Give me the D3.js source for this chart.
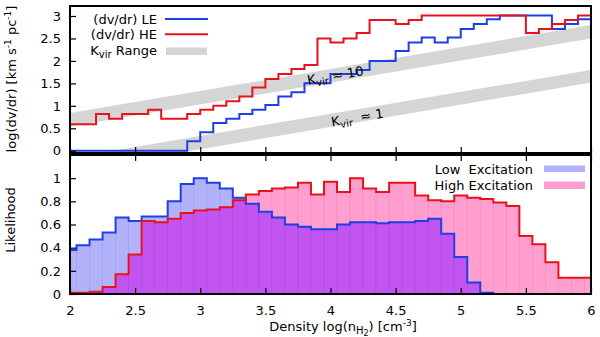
<html>
<head>
<script src="https://d3js.org/d3.v7.min.js"></script>
<style>
    body { margin: 0; background: #fff; }
    text { font-family: "DejaVu Sans", sans-serif; font-size: 13px; fill: #000; white-space: pre; }
    .tick text { font-size: 13px; }
</style>
</head>
<body>
<svg id="chart" width="600" height="337"></svg>
<script>
    // top panel: left edges of the 0.1 wide bins
    var topEdges = [2.0, 2.1, 2.2, 2.3, 2.4, 2.5, 2.6, 2.7, 2.8, 2.9,
                    3.0, 3.1, 3.2, 3.3, 3.4, 3.5, 3.6, 3.7, 3.8, 3.9,
                    4.0, 4.1, 4.2, 4.3, 4.4, 4.5, 4.6, 4.7, 4.8, 4.9,
                    5.0, 5.1, 5.2, 5.3, 5.4, 5.5, 5.6, 5.7, 5.8, 5.9]
    var dvdrLE = [0, 0, 0, 0, 0, 0, 0, 0, 0, 0.21,
                  0.41, 0.62, 0.71, 0.82, 0.91, 1.02, 1.21, 1.30, 1.50, 1.50,
                  1.71, 1.71, 1.80, 2.00, 2.00, 2.22, 2.41, 2.52, 2.41, 2.52,
                  2.71, 2.82, 2.93, 3.01, 3.01, 3.01, 3.01, 2.71, 2.82, 2.93]
    var dvdrHE = [0.59, 0.59, 0.82, 0.71, 0.82, 0.82, 0.91, 0.71, 0.71, 0.82,
                  0.91, 1.00, 1.10, 1.21, 1.41, 1.60, 1.71, 1.82, 1.91, 2.50,
                  2.41, 2.50, 2.62, 2.91, 2.91, 2.82, 2.91, 3.01, 3.01, 3.01,
                  3.01, 3.01, 3.01, 3.01, 3.01, 2.62, 2.71, 2.82, 2.91, 3.01]

    // K_vir bands (straight lines, given at both ends)
    var bandX = [2, 6]
    var k10Hi = [0.84, 2.80]
    var k10Lo = [0.54, 2.50]
    var k1Hi = [-0.16, 1.80]
    var k1Lo = [-0.46, 1.52]

    // bottom panel: bin centres
    var botCentres = [2.0, 2.1, 2.2, 2.3, 2.4, 2.5, 2.6, 2.7, 2.8, 2.9,
                      3.0, 3.1, 3.2, 3.3, 3.4, 3.5, 3.6, 3.7, 3.8, 3.9,
                      4.0, 4.1, 4.2, 4.3, 4.4, 4.5, 4.6, 4.7, 4.8, 4.9,
                      5.0, 5.1, 5.2, 5.3, 5.4, 5.5, 5.6, 5.7, 5.8, 5.9, 6.0]
    var likeLE = [0.38, 0.42, 0.47, 0.53, 0.66, 0.63, 0.67, 0.67, 0.80, 0.95,
                  1.00, 0.96, 0.91, 0.83, 0.78, 0.71, 0.66, 0.60, 0.58, 0.56,
                  0.56, 0.60, 0.62, 0.62, 0.61, 0.62, 0.62, 0.63, 0.65, 0.52,
                  0.32, 0.10, 0.01, 0, 0, 0, 0, 0, 0, 0, 0]
    var likeHE = [0.01, 0.01, 0.02, 0.06, 0.17, 0.34, 0.63, 0.62, 0.65, 0.70,
                  0.72, 0.73, 0.75, 0.81, 0.86, 0.89, 0.91, 0.92, 0.96, 0.86,
                  0.97, 0.88, 1.00, 0.91, 0.88, 0.96, 0.96, 0.85, 0.81, 0.80,
                  0.85, 0.83, 0.82, 0.79, 0.76, 0.50, 0.43, 0.275, 0.14, 0.14, 0.14]

    var xTicks = [2, 2.5, 3, 3.5, 4, 4.5, 5, 5.5, 6]
    var topTicks = [0, 0.5, 1, 1.5, 2, 2.5, 3]
    var botTicks = [0, 0.2, 0.4, 0.6, 0.8, 1]

    var blue = "#1f3fe6"
    var red = "#e8121c"

    var svg = d3.select("#chart")
    var left = 70, right = 591

    var x = d3.scaleLinear().domain([2, 6]).range([left, right])
    var yTop = d3.scaleLinear().domain([-0.05, 3.2]).range([153, 7])
    var yBot = d3.scaleLinear().domain([0, 1.2]).range([294, 155])

    var defs = svg.append("defs")
    defs.append("clipPath").attr("id", "clipTop").append("rect")
        .attr("x", left).attr("y", 7).attr("width", right - left).attr("height", 146)
    defs.append("clipPath").attr("id", "clipBot").append("rect")
        .attr("x", left).attr("y", 155).attr("width", right - left).attr("height", 139)

    // ---------- top panel ----------
    var gTop = svg.append("g").attr("clip-path", "url(#clipTop)")

    function band(hi, lo) {
        var pts = bandX.map((d, i) => ({x: d, hi: hi[i], lo: lo[i]}))
        gTop.append("path")
            .attr("d", d3.area().x(d => x(d.x)).y0(d => yTop(d.lo)).y1(d => yTop(d.hi))(pts))
            .attr("fill", "#d5d5d5")
    }
    band(k10Hi, k10Lo)
    band(k1Hi, k1Lo)

    function stepLine(g, edges, vals, lastEdge, y, color) {
        var pts = edges.map((d, i) => [d, vals[i]])
        pts.push([lastEdge, vals[vals.length - 1]])
        g.append("path")
            .attr("d", d3.line().x(d => x(d[0])).y(d => y(d[1])).curve(d3.curveStepAfter)(pts))
            .attr("fill", "none")
            .attr("stroke", color)
            .attr("stroke-width", 2)
    }
    stepLine(gTop, topEdges, dvdrLE, 6.0, yTop, blue)
    stepLine(gTop, topEdges, dvdrHE, 6.0, yTop, red)

    // K_vir labels along the bands
    var angle = Math.atan2(yTop(k10Hi[1]) - yTop(k10Hi[0]), x(6) - x(2)) * 180 / Math.PI
    function kLabel(px, py, tail) {
        var t = svg.append("text")
            .attr("transform", `translate(${px},${py}) rotate(${angle})`)
            .attr("text-anchor", "middle")
        t.append("tspan").text("K")
        t.append("tspan").attr("dy", 3).style("font-size", "10px").text("vir")
        t.append("tspan").attr("dy", -3).text(tail)
    }
    kLabel(336, 80, " \u2248 10")
    kLabel(358, 122, "  \u2248 1")

    // axes of top panel
    svg.append("g").attr("transform", `translate(${left},0)`)
        .call(d3.axisLeft(yTop).tickValues(topTicks).tickSize(-6).tickPadding(9).tickFormat(d3.format("")))
    svg.append("g").attr("transform", "translate(0,153)")
        .call(d3.axisBottom(x).tickValues(xTicks).tickSize(-6).tickFormat(""))
    svg.append("rect").attr("x", left).attr("y", 6).attr("width", right - left).attr("height", 147)
        .attr("fill", "none").attr("stroke", "#000").attr("stroke-width", 2)

    // legend top
    var lg = svg.append("g")
    lg.append("text").attr("x", 157).attr("y", 23.5).attr("text-anchor", "end").text("(dv/dr) LE")
    lg.append("line").attr("x1", 165).attr("x2", 208).attr("y1", 19).attr("y2", 19)
        .attr("stroke", blue).attr("stroke-width", 2)
    lg.append("text").attr("x", 157).attr("y", 39).attr("text-anchor", "end").text("(dv/dr) HE")
    lg.append("line").attr("x1", 165).attr("x2", 208).attr("y1", 34.3).attr("y2", 34.3)
        .attr("stroke", red).attr("stroke-width", 2)
    var kr = lg.append("text").attr("x", 157).attr("y", 55).attr("text-anchor", "end")
    kr.append("tspan").text("K")
    kr.append("tspan").attr("dy", 3).style("font-size", "10px").text("vir")
    kr.append("tspan").attr("dy", -3).text(" Range")
    lg.append("rect").attr("x", 166).attr("y", 47.5).attr("width", 41).attr("height", 7.5).attr("fill", "#d5d5d5")

    // ---------- bottom panel ----------
    var gBot = svg.append("g").attr("clip-path", "url(#clipBot)")
    var binW = x(2.1) - x(2.0)

    function bars(vals, fill, stroke) {
        gBot.append("g").selectAll("rect")
            .data(botCentres.map((c, i) => ({c: c, v: vals[i]})).filter(d => d.v > 0))
            .join("rect")
                .attr("x", d => x(d.c) - binW / 2)
                .attr("width", binW)
                .attr("y", d => yBot(d.v))
                .attr("height", d => yBot(0) - yBot(d.v))
                .attr("fill", fill)
                .attr("stroke", stroke)
                .attr("stroke-width", 0.7)
    }
    bars(likeLE, "#b2b2fa", "#a0a2f0")
    bars(likeHE, "#ff9fcf", "#f48cc2")
    bars(likeLE.map((d, i) => Math.min(d, likeHE[i])), "#c255f0", "#b24ae6")

    var botEdges = botCentres.map(c => c - 0.05)
    stepLine(gBot, botEdges, likeLE, 6.05, yBot, blue)
    stepLine(gBot, botEdges, likeHE, 6.05, yBot, red)

    svg.append("g").attr("transform", `translate(${left},0)`)
        .call(d3.axisLeft(yBot).tickValues(botTicks).tickSize(-6).tickPadding(9).tickFormat(d3.format("")))
    svg.append("g").attr("transform", "translate(0,294)")
        .call(d3.axisBottom(x).tickValues(xTicks).tickSize(-6).tickPadding(12).tickFormat(d3.format("")))
    svg.append("g").attr("transform", "translate(0,155)")
        .call(d3.axisTop(x).tickValues(xTicks).tickSize(-6).tickFormat(""))
    svg.append("rect").attr("x", left).attr("y", 155).attr("width", right - left).attr("height", 139)
        .attr("fill", "none").attr("stroke", "#000").attr("stroke-width", 2)

    svg.selectAll(".domain").remove()
    svg.selectAll(".tick line").attr("stroke", "#000").attr("stroke-width", 1.2)
    svg.selectAll(".tick text").attr("fill", "#000").style("font-family", "DejaVu Sans").style("font-size", "13px")

    // legend bottom
    svg.append("text").attr("x", 533).attr("y", 173.5).attr("text-anchor", "end").text("Low  Excitation")
    svg.append("rect").attr("x", 544).attr("y", 165.5).attr("width", 41).attr("height", 6.5).attr("fill", "#b2b2fa")
    svg.append("text").attr("x", 533).attr("y", 189.5).attr("text-anchor", "end").text("High Excitation")
    svg.append("rect").attr("x", 544).attr("y", 181.5).attr("width", 41).attr("height", 7.5).attr("fill", "#ff9fcf")

    // axis titles
    var yt = svg.append("text").attr("transform", "translate(16,79) rotate(-90)").attr("text-anchor", "middle")
    yt.append("tspan").text("log(dv/dr) [km s")
    yt.append("tspan").attr("dy", -5).style("font-size", "9px").text("-1")
    yt.append("tspan").attr("dy", 5).text(" pc")
    yt.append("tspan").attr("dy", -5).style("font-size", "9px").text("-1")
    yt.append("tspan").attr("dy", 5).text("]")

    svg.append("text").attr("transform", "translate(15,220) rotate(-90)").attr("text-anchor", "middle").text("Likelihood")

    var xt = svg.append("text").attr("x", 343).attr("y", 331).attr("text-anchor", "middle")
    xt.append("tspan").text("Density log(n")
    xt.append("tspan").attr("dy", 3).style("font-size", "10px").text("H")
    xt.append("tspan").attr("dy", 2).style("font-size", "8px").text("2")
    xt.append("tspan").attr("dy", -5).text(") [cm")
    xt.append("tspan").attr("dy", -5).style("font-size", "9px").text("-3")
    xt.append("tspan").attr("dy", 5).text("]")
</script>
</body>
</html>
